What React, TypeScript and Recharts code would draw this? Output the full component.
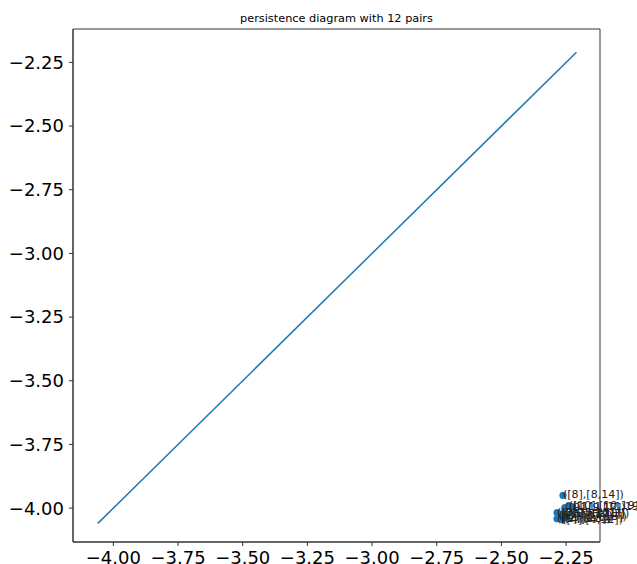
import React from "react";
import { ComposedChart, Scatter, XAxis, YAxis, ReferenceArea } from "recharts";

const births = [-2.262, -2.240, -2.225, -2.255, -2.285, -2.278, -2.272, -2.265, -2.285, -2.258, -2.250, -2.268];
const deaths = [-3.950, -3.990, -3.995, -3.998, -4.018, -4.030, -4.040, -4.045, -4.042, -4.025, -4.035, -4.022];
const pairLabels = [
  "([8],[8,14])",
  "([10],[10,19])",
  "([11],[11,19])",
  "([9],[9,17])",
  "([3],[3,10])",
  "([5],[5,7])",
  "([2],[2,6])",
  "([4],[4,12])",
  "([1],[1,5])",
  "([6],[6,21])",
  "([7],[7,13])",
  "([12],[12,3])",
];
const diagonalEnds = [-4.06, -2.21];
const xTicks = [-4.0, -3.75, -3.5, -3.25, -3.0, -2.75, -2.5, -2.25];
const yTicks = [-4.0, -3.75, -3.5, -3.25, -3.0, -2.75, -2.5, -2.25];
const xDomain = [-4.156, -2.119];
const yDomain = [-4.133, -2.119];

const points = births.map((b, i) => ({ x: b, y: deaths[i], label: pairLabels[i] }));
const diag = diagonalEnds.map((v) => ({ x: v, y: v }));

const fmt = (v: number) => {
  const s = Math.abs(v).toFixed(2);
  return v < 0 ? "\u2212" + s : s;
};

const FONT = "DejaVu Sans, sans-serif";

const PointShape = (props: any) => {
  const { cx, cy } = props;
  return <circle cx={cx} cy={cy} r={3.6} fill="#1f77b4" />;
};

const LabelLayer = (props: any) => {
  const { cx, cy, payload } = props;
  return (
    <text x={cx} y={cy + 3} fontSize={11} fontFamily={FONT} fill="#222">
      {payload.label}
    </text>
  );
};

export default function App() {
  return (
    <div style={{ position: "absolute", left: 0, top: 0, width: 637, height: 564, background: "#fff" }}>
      <ComposedChart
        width={637}
        height={564}
        margin={{ top: 29, right: 37, bottom: 0, left: 0 }}
      >
        <text x={336.5} y={22} textAnchor="middle" fontSize={11.3} fontFamily={FONT} fill="#000">
          persistence diagram with 12 pairs
        </text>
        <XAxis
          type="number"
          dataKey="x"
          domain={xDomain}
          ticks={xTicks}
          tickFormatter={fmt}
          height={22}
          tickSize={4}
          tickMargin={5}
          tick={{ fontSize: 18, fontFamily: FONT, fill: "#000" }}
          stroke="#000"
          axisLine={{ stroke: "#333" }}
          tickLine={{ stroke: "#333" }}
        />
        <YAxis
          type="number"
          dataKey="y"
          domain={yDomain}
          ticks={yTicks}
          tickFormatter={fmt}
          width={73}
          tickSize={4}
          tickMargin={5}
          tick={{ fontSize: 18, fontFamily: FONT, fill: "#000" }}
          axisLine={{ stroke: "#333" }}
          tickLine={{ stroke: "#333" }}
        />
        <ReferenceArea
          x1={xDomain[0]}
          x2={xDomain[1]}
          y1={yDomain[0]}
          y2={yDomain[1]}
          fill="none"
          stroke="#333"
          strokeWidth={1}
          ifOverflow="visible"
        />
        <Scatter
          data={diag}
          line={{ stroke: "#1f77b4", strokeWidth: 1.5 }}
          shape={() => <g />}
          isAnimationActive={false}
        />
        <Scatter data={points} shape={PointShape} isAnimationActive={false} />
        <Scatter data={points} shape={LabelLayer} isAnimationActive={false} />
      </ComposedChart>
    </div>
  );
}
